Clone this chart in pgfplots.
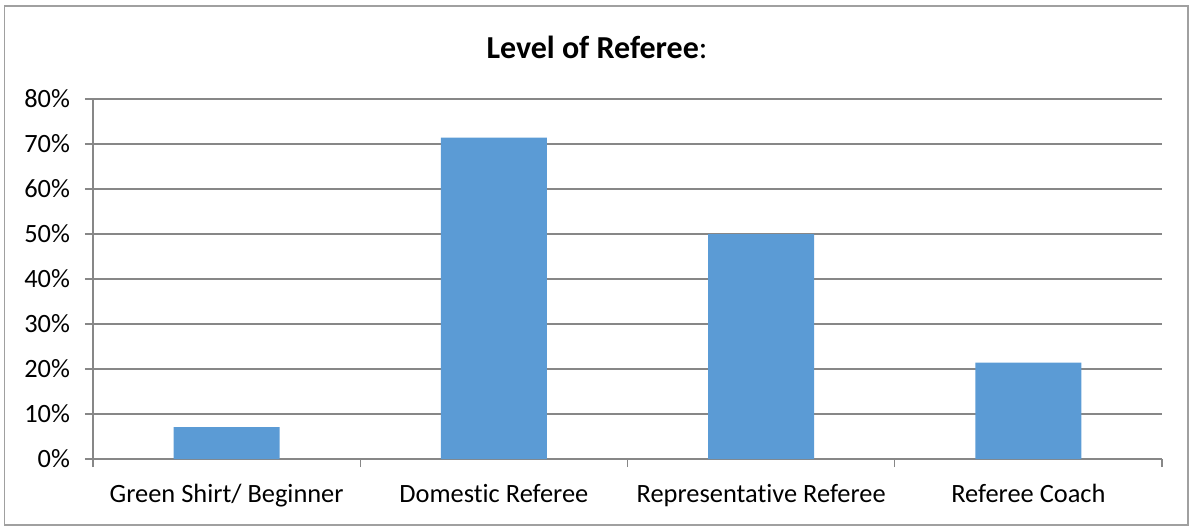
\documentclass[border=0pt]{standalone}
\usepackage{pgfplots}
\pgfplotsset{compat=1.18}
\usepackage{fontspec}
\setmainfont[Ligatures=NoCommon]{Carlito}
\definecolor{barblue}{HTML}{5B9BD5}
\definecolor{gridgray}{HTML}{878787}
\definecolor{framegray}{HTML}{A0A0A0}
\begin{document}
\begin{tikzpicture}[x=1bp,y=1bp]
% full canvas 1192x527 px at 0.5bp/px; plot area lower-left at (93px,459px)
\path (-46.5,-34) rectangle (549.5,229.5);
\draw[framegray, line width=0.8bp] (-44.25,-33) rectangle (547.5,226.5);
\begin{axis}[
  at={(0,0)}, anchor=south west,
  scale only axis, width=534.5bp, height=180bp,
  xmin=-0.5, xmax=3.5, ymin=0, ymax=80,
  axis x line*=bottom, axis y line*=left,
  axis line style={gridgray, line width=0.6bp},
  xtick={-0.5,0.5,1.5,2.5,3.5}, xticklabels={},
  extra x ticks={0,1,2,3},
  extra x tick labels={Green Shirt/ Beginner, Domestic Referee, Representative Referee, Referee Coach},
  extra x tick style={major tick length=0pt, grid=none},
  xticklabel style={font=\fontsize{13.2bp}{15bp}\selectfont, yshift=-9bp},
  ytick={0,10,...,80},
  yticklabel={\pgfmathprintnumber{\tick}\%},
  yticklabel style={font=\fontsize{13.2bp}{15bp}\selectfont, xshift=-4bp},
  /pgf/number format/assume math mode=true,
  tick align=outside, major tick length=4bp,
  tick style={gridgray, line width=0.6bp},
  ymajorgrids, grid style={gridgray, line width=0.6bp},
  ybar, bar width=53bp,
]
\addplot[fill=barblue, draw=none] coordinates {(0,7.1) (1,71.4) (2,50.0) (3,21.4)};
\end{axis}
\node[font=\fontsize{16bp}{19bp}\selectfont] at (252,206) {\textbf{Level of Referee}:};
\end{tikzpicture}
\end{document}
